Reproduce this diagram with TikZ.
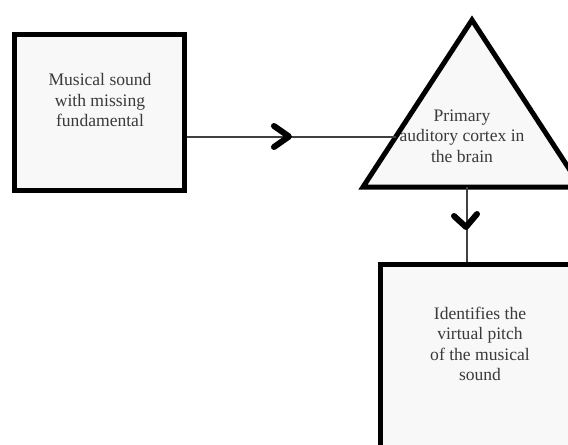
\documentclass[tikz,border=0pt]{standalone}
\usepackage{fontspec}
\setmainfont{Liberation Serif}
\usepackage{tikz}
\usetikzlibrary{positioning}

\definecolor{boxfill}{HTML}{F8F8F8}
\definecolor{inktext}{HTML}{3A3A3A}

\tikzset{
  thickbox/.style={draw=black, line width=0.1cm, fill=boxfill, inner sep=0pt},
  boxtext/.style={align=center, text=inktext, font=\fontsize{10}{11.6}\selectfont},
  wire/.style={draw=black!75, line width=0.6pt},
  chevron/.style={line width=0.12cm, line cap=round, line join=round}
}

\begin{document}
\begin{tikzpicture}[x=0.02cm, y=-0.02cm]
\useasboundingbox (0,0) rectangle (568,444);
\clip (0,0) rectangle (568,444);
\fill[white] (0,0) rectangle (568,444);

% boxes
\node[thickbox, minimum width=3.42cm, minimum height=3.14cm] (sound) at (99.5,112.5) {};
\node[boxtext] (soundtxt) at (100,100) {Musical sound\\with missing\\fundamental};

\filldraw[fill=boxfill, line width=0.1cm, line join=miter] (472,20) -- (363,187) -- (581,187) -- cycle;
\node[boxtext] (cortex) at (462,136) {Primary\\auditory cortex in\\the brain};

\node[thickbox, minimum width=4.02cm, minimum height=4.1cm] (pitch) at (481,367) {};
\node[boxtext] (pitchtxt) at (480,344) {Identifies the\\virtual pitch\\of the musical\\sound};

% connectors
\coordinate (cortexin) at (396,137);
\coordinate (cortexout) at (467,187);
\draw[wire] (sound.east |- cortexin) -- (cortexin);
\draw[wire] (cortexout) -- (cortexout |- pitch.north);

% chevrons on the lines
\draw[chevron] (274,126) -- (289,136.5) -- (274,147);
\draw[chevron] (454,216) -- (466,227) -- (477,214);
\end{tikzpicture}
\end{document}
